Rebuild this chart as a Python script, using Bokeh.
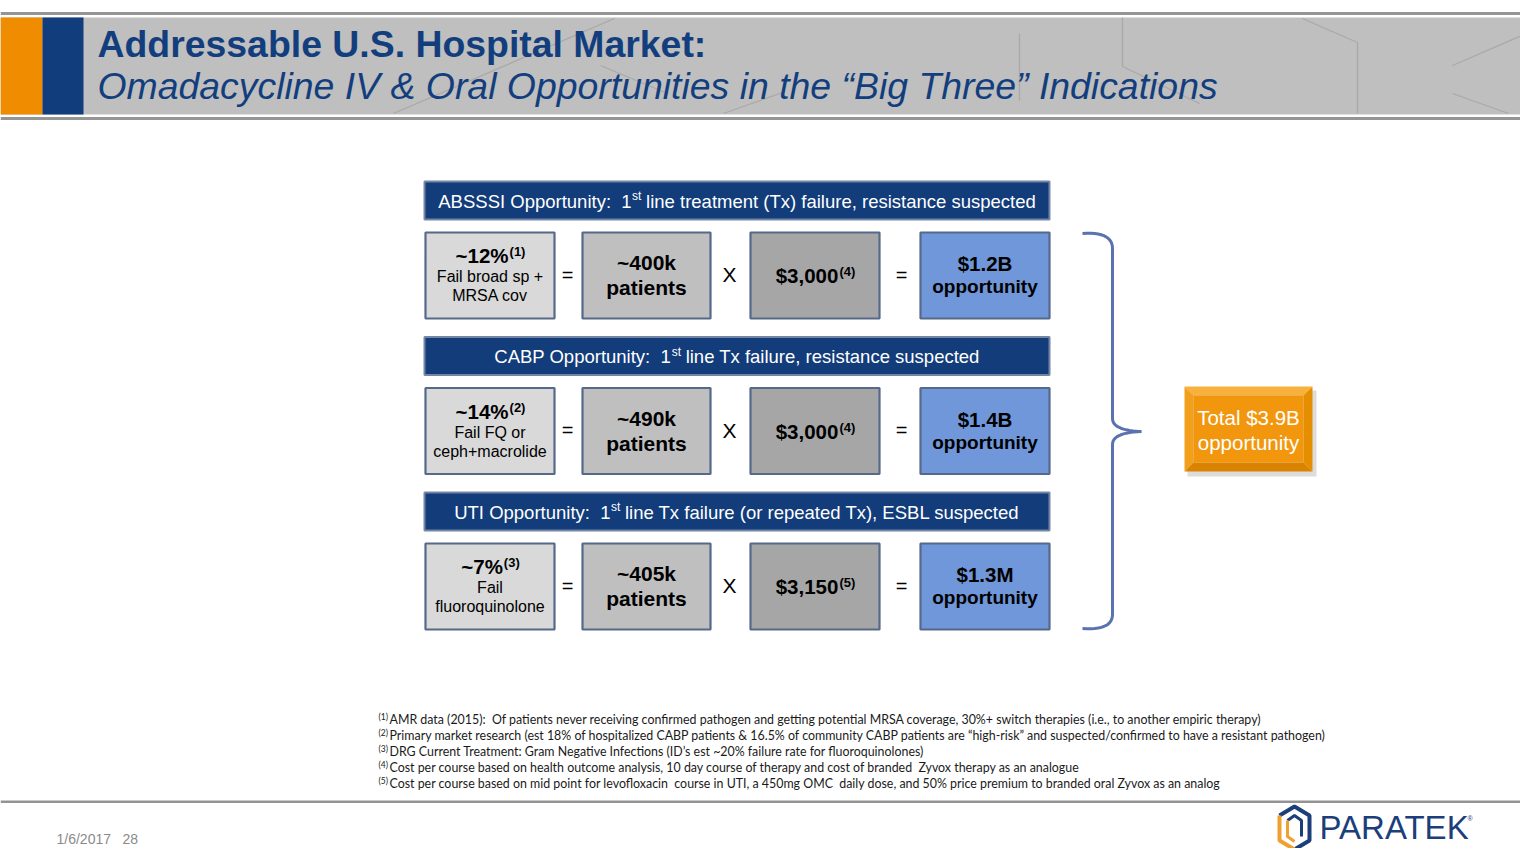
from bokeh.plotting import figure
from bokeh.models import Range1d
from bokeh.core.properties import value
from bokeh.embed import file_html
from bokeh.resources import INLINE
import numpy as np

# ---------------- data ----------------
title = "Addressable U.S. Hospital Market:"
subtitle = "Omadacycline IV & Oral Opportunities in the \u201cBig Three\u201d Indications"
header_lead = ["ABSSSI Opportunity:  1", "CABP Opportunity:  1", "UTI Opportunity:  1"]
header_sup = ["st", "st", "st"]
header_rest = [" line treatment (Tx) failure, resistance suspected",
               " line Tx failure, resistance suspected",
               " line Tx failure (or repeated Tx), ESBL suspected"]
fail_pct = ["~12%", "~14%", "~7%"]
fail_ref = ["(1)", "(2)", "(3)"]
fail_desc1 = ["Fail broad sp +", "Fail FQ or", "Fail"]
fail_desc2 = ["MRSA cov", "ceph+macrolide", "fluoroquinolone"]
patients = ["~400k", "~490k", "~405k"]
patients_unit = ["patients", "patients", "patients"]
cost = ["$3,000", "$3,000", "$3,150"]
cost_ref = ["(4)", "(4)", "(5)"]
opportunity = ["$1.2B", "$1.4B", "$1.3M"]
opportunity_unit = ["opportunity", "opportunity", "opportunity"]
total_lines = ["Total $3.9B", "opportunity"]
footnote_refs = ["(1)", "(2)", "(3)", "(4)", "(5)"]
footnotes = [
    "AMR data (2015):  Of patients never receiving confirmed pathogen and getting potential MRSA coverage, 30%+ switch therapies (i.e., to another empiric therapy)",
    "Primary market research (est 18% of hospitalized CABP patients & 16.5% of community CABP patients are \u201chigh-risk\u201d and suspected/confirmed to have a resistant pathogen)",
    "DRG Current Treatment: Gram Negative Infections (ID\u2019s est ~20% failure rate for fluoroquinolones)",
    "Cost per course based on health outcome analysis, 10 day course of therapy and cost of branded  Zyvox therapy as an analogue",
    "Cost per course based on mid point for levofloxacin  course in UTI, a 450mg OMC  daily dose, and 50% price premium to branded oral Zyvox as an analog",
]
footer_date = "1/6/2017"
footer_page = "28"
brand = "PARATEK"

# ---------------- helpers ----------------
ARIAL = {' ': 278, '!': 278, '"': 355, '#': 556, '$': 556, '%': 889, '&': 667, "'": 191, '(': 333, ')': 333,
         '*': 389, '+': 584, ',': 278, '-': 333, '.': 278, '/': 278, ':': 278, ';': 278, '=': 584, '~': 584,
         'A': 667, 'B': 667, 'C': 722, 'D': 722, 'E': 667, 'F': 611, 'G': 778, 'H': 722, 'I': 278, 'J': 500,
         'K': 667, 'L': 556, 'M': 833, 'N': 722, 'O': 778, 'P': 667, 'Q': 778, 'R': 722, 'S': 667, 'T': 611,
         'U': 722, 'V': 667, 'W': 944, 'X': 667, 'Y': 667, 'Z': 611,
         'a': 556, 'b': 556, 'c': 500, 'd': 556, 'e': 556, 'f': 278, 'g': 556, 'h': 556, 'i': 222, 'j': 222,
         'k': 500, 'l': 222, 'm': 833, 'n': 556, 'o': 556, 'p': 556, 'q': 556, 'r': 333, 's': 500, 't': 278,
         'u': 556, 'v': 500, 'w': 722, 'x': 500, 'y': 500, 'z': 500}
for d in "0123456789":
    ARIAL[d] = 556


def tw(s, size):
    return sum(ARIAL.get(c, 556) for c in s) * size / 1000.0


def keep_spaces(s):
    return s.replace("  ", " \u00a0")


FONT = "Liberation Sans"

p = figure(width=1520, height=848, x_range=Range1d(0, 1520), y_range=Range1d(848, 0),
           output_backend="svg", toolbar_location=None, min_border=0,
           x_axis_location=None, y_axis_location=None)
p.grid.visible = False
p.outline_line_color = None
p.background_fill_color = "white"
p.border_fill_color = "white"


def txt(x, y, s, size, color="black", style="normal", align="left", baseline="middle", font=FONT):
    p.text(x=[x], y=[y], text=[keep_spaces(s)], text_font=value(font), text_font_size=f"{size}px",
           text_font_style=style, text_color=color, text_align=align, text_baseline=baseline)


def qbez(a, c, b, n=14):
    t = np.linspace(0, 1, n)
    xs = (1 - t) ** 2 * a[0] + 2 * (1 - t) * t * c[0] + t ** 2 * b[0]
    ys = (1 - t) ** 2 * a[1] + 2 * (1 - t) * t * c[1] + t ** 2 * b[1]
    return list(xs), list(ys)


# ---------------- header ----------------
p.quad(left=0, right=1536, top=11.5, bottom=14.5, fill_color="#959595", line_color=None)
p.quad(left=0, right=1536, top=17, bottom=114, fill_color="#bfbfbf", line_color=None)
p.quad(left=0, right=1536, top=116.5, bottom=119.5, fill_color="#959595", line_color=None)
deco = [((393, 113), (614, 18)), ((600, 65), (667, 93)), ((723, 113), (782, 92)),
        ((1019, 33), (1019, 100)), ((1122, 17), (1122, 66)), ((1122, 66), (1199, 103)),
        ((1302, 18), (1357, 42)), ((1357, 42), (1357, 113)),
        ((1528, 32), (1452, 65)), ((1452, 93), (1508, 113))]
p.multi_line(xs=[[a[0], b[0]] for a, b in deco], ys=[[a[1], b[1]] for a, b in deco],
             line_color="#a9a9a9", line_width=1.3)
p.quad(left=0, right=42, top=17, bottom=114, fill_color="#ef8c00", line_color=None)
p.quad(left=42, right=83, top=17, bottom=114, fill_color="#113d7c", line_color=None)
txt(97, 43, title, 37.4, color="#133e7e", style="bold")
txt(97, 85, subtitle, 37.4, color="#133e7e", style="italic")

# ---------------- rows ----------------
HDR_L, HDR_R = 424, 1049
BOX = [(425, 554), (582, 710), (750, 879), (920, 1049)]
FILLS = ["#d9d9d9", "#bfbfbf", "#a6a6a6", "#6f97d9"]
for i in range(3):
    ht = 181 + 155.5 * i
    p.quad(left=HDR_L, right=HDR_R, top=ht, bottom=ht + 38, fill_color="#123c7a",
           line_color="#7486a3", line_width=2)
    hy = ht + 19.5
    hs, ss = 18.5, 12
    W = tw(header_lead[i], hs) + tw(header_sup[i], ss) + tw(header_rest[i], hs)
    x0 = (HDR_L + HDR_R) / 2 - W / 2
    x1 = x0 + tw(header_lead[i], hs)
    txt(x1, hy, header_lead[i], hs, color="white", align="right")
    txt(x1 + 0.5, hy - 5, header_sup[i], ss, color="white")
    x2 = x1 + tw(header_sup[i], ss)
    txt(x2 + tw(" ", hs), hy, header_rest[i].lstrip(), hs, color="white")

    bt = ht + 51
    bb = bt + 86
    cy = (bt + bb) / 2
    p.quad(left=[b[0] for b in BOX], right=[b[1] for b in BOX], top=bt, bottom=bb,
           fill_color=FILLS, line_color="#56698a", line_width=2.2)
    # box A
    ca = (BOX[0][0] + BOX[0][1]) / 2
    ms, rs = 20.5, 13
    W = tw(fail_pct[i], ms) + tw(fail_ref[i], rs)
    xa = ca - W / 2 + tw(fail_pct[i], ms)
    txt(xa, cy - 20, fail_pct[i], ms, style="bold", align="right")
    txt(xa + 1, cy - 24, fail_ref[i], rs, style="bold")
    txt(ca, cy + 1, fail_desc1[i], 16, align="center")
    txt(ca, cy + 20, fail_desc2[i], 16, align="center")
    # box B
    cb = (BOX[1][0] + BOX[1][1]) / 2
    txt(cb, cy - 13, patients[i], 21, style="bold", align="center")
    txt(cb, cy + 12, patients_unit[i], 21, style="bold", align="center")
    # box C
    cc = (BOX[2][0] + BOX[2][1]) / 2
    W = tw(cost[i], ms) + tw(cost_ref[i], rs)
    xc = cc - W / 2 + tw(cost[i], ms)
    txt(xc, cy, cost[i], ms, style="bold", align="right")
    txt(xc + 1, cy - 4, cost_ref[i], rs, style="bold")
    # box D
    cd = (BOX[3][0] + BOX[3][1]) / 2
    txt(cd, cy - 12, opportunity[i], 20.5, style="bold", align="center")
    txt(cd, cy + 11, opportunity_unit[i], 19, style="bold", align="center")
    # operators
    txt(567, cy - 1, "=", 20, align="center")
    txt(729, cy - 1, "X", 21, align="center")
    txt(901, cy - 1, "=", 20, align="center")

# ---------------- brace ----------------
bx, by = [], []
segs = [qbez((1082, 233), (1112, 231), (1112, 248)),
        ([1112, 1112], [248, 418]),
        qbez((1112, 418), (1112, 430), (1141, 431)),
        qbez((1141, 431), (1112, 432), (1112, 444)),
        ([1112, 1112], [444, 614]),
        qbez((1112, 614), (1112, 630), (1082, 628))]
for sx, sy in segs:
    bx += list(sx)
    by += list(sy)
p.line(bx, by, line_color="#5a72b0", line_width=3)

# ---------------- total box ----------------
L, R, T, B = 1184, 1312, 386, 471
p.quad(left=L + 3, right=R + 4, top=T + 4, bottom=B + 5, fill_color="#9a9a9a", fill_alpha=0.35, line_color=None)
bv = 9
p.patches(xs=[[L, R, R - bv, L + bv], [L, L + bv, L + bv, L], [R, R, R - bv, R - bv], [L, L + bv, R - bv, R]],
          ys=[[T, T, T + bv, T + bv], [T, T + bv, B - bv, B], [T, B, B - bv, T + bv], [B, B - bv, B - bv, B]],
          fill_color=["#f8b13c", "#f2a01c", "#e58f00", "#d98300"], line_color=None)
p.quad(left=L + bv, right=R - bv, top=T + bv, bottom=B - bv, fill_color="#f2970d", line_color=None)
tcx = (L + R) / 2
txt(tcx, 417, total_lines[0], 20.5, color="white", align="center")
txt(tcx, 442, total_lines[1], 20.5, color="white", align="center")

# ---------------- footnotes ----------------
for k in range(5):
    fy = 719 + 16 * k
    txt(378, fy - 3, footnote_refs[k], 8.5, color="#1a1a1a", font="Lato")
    txt(389, fy, footnotes[k], 12.4, color="#1a1a1a", font="Lato")

# ---------------- footer ----------------
p.quad(left=0, right=1536, top=800, bottom=802.5, fill_color="#939393", line_color=None)
txt(56, 838, footer_date, 14, color="#8a8a8a")
txt(122, 838, footer_page, 14, color="#8a8a8a")
# logo mark
oy = -5
p.line([1279, 1294, 1309, 1309, 1294], [820 + oy, 811 + oy, 820 + oy, 845 + oy, 854 + oy],
       line_color="#1c3f7c", line_width=4)
p.line([1279, 1279, 1294], [820 + oy, 845 + oy, 854 + oy], line_color="#f0a030", line_width=4)
p.line([1287, 1294, 1301, 1301], [825 + oy, 820 + oy, 825 + oy, 841 + oy], line_color="#1c3f7c", line_width=3)
p.line([1287, 1287, 1294], [825 + oy, 841 + oy, 846 + oy], line_color="#f0a030", line_width=3)
txt(1319, 832 + oy, brand, 33, color="#1c3f7c")
txt(1467, 823 + oy, "\u00ae", 7, color="#1c3f7c")

open("out.html", "w").write(file_html(p, INLINE))
